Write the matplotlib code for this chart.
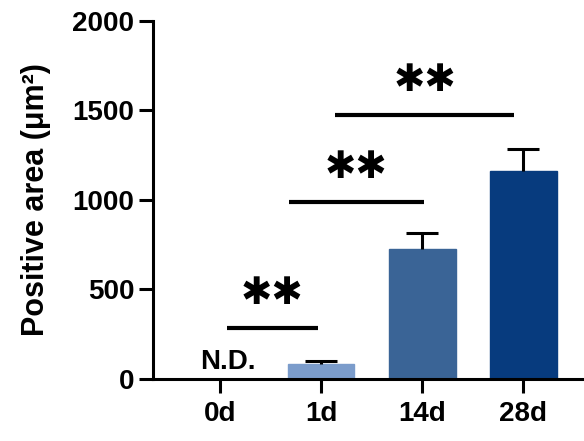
import numpy as np
import matplotlib.pyplot as plt

plt.rcParams.update({
    "font.family": ["Liberation Sans", "DejaVu Sans"],
    "font.weight": "bold",
    "axes.linewidth": 2.2,
})

# data
groups = ["0d", "1d", "14d", "28d"]
means = [0, 85, 727, 1161]
sems = [0, 15, 86, 121]
colors = ["white", "#7b9ccb", "#3a6496", "#073b7e"]

# significance brackets: (x start, x end, y level)
sig_x0 = [0.07, 0.68, 1.14]
sig_x1 = [0.97, 2.02, 2.91]
sig_y = [283, 991, 1475]
sig_text = ["✱✱", "✱✱", "✱✱"]

fig = plt.figure(figsize=(5.84, 4.41), dpi=100)
ax = fig.add_axes([0.262, 0.1406, 0.738, 0.812])

x = np.arange(len(groups))
m = np.array(means[1:])
e = np.array(sems[1:])
ax.bar(x[1:], m, width=0.66, color=colors[1:], edgecolor=colors[1:],
       linewidth=1, zorder=2)
# upper error bars only
ax.vlines(x[1:], m, m + e, color="black", linewidth=2.2, zorder=3)
ax.hlines(m + e, x[1:] - 0.16, x[1:] + 0.16, color="black", linewidth=2.2, zorder=3)

ax.text(0.08, 25, "N.D.", ha="center", va="bottom", fontsize=20, fontweight="bold")

for x0, x1, y, t in zip(sig_x0, sig_x1, sig_y, sig_text):
    ax.plot([x0, x1], [y, y], color="black", linewidth=3, solid_capstyle="butt",
            zorder=4)
    ax.text((x0 + x1) / 2, y + 190, t, ha="center", va="center", fontsize=27,
            fontweight="bold", family="DejaVu Sans")

ax.set_xlim(-0.66, 3.6)
ax.set_ylim(0, 2000)
ax.set_yticks([0, 500, 1000, 1500, 2000])
ax.set_xticks(x)
ax.set_xticklabels(groups)
ax.tick_params(axis="both", labelsize=20, width=2.2, length=10)
ax.tick_params(axis="x", pad=6)
for lbl in ax.get_xticklabels() + ax.get_yticklabels():
    lbl.set_fontweight("bold")
ax.set_ylabel("Positive area (μm²)", fontsize=22, fontweight="bold", labelpad=15)
ax.spines["top"].set_visible(False)
ax.spines["right"].set_visible(False)

fig.savefig("out.png", dpi=100)
